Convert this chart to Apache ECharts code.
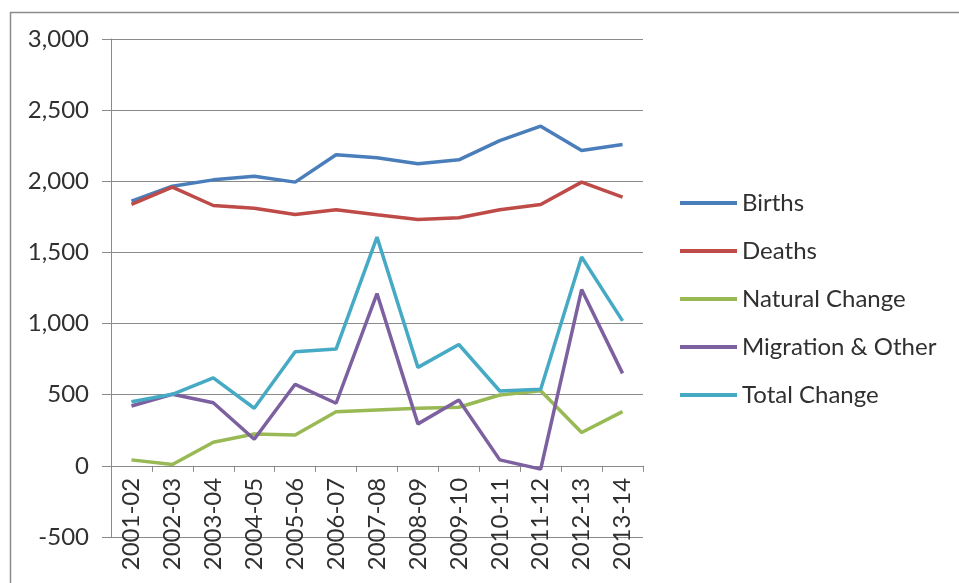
<!DOCTYPE html>
<html>
<head>
<meta charset="utf-8">
<script src="https://cdn.jsdelivr.net/npm/echarts@6/dist/echarts.min.js"></script>
<style>
  html, body { margin: 0; padding: 0; background: #fff; }
  #chart { width: 959px; height: 583px; }
</style>
</head>
<body>
<div id="chart"></div>
<script>
// Population components by year
var years = ['2001-02', '2002-03', '2003-04', '2004-05', '2005-06', '2006-07', '2007-08',
             '2008-09', '2009-10', '2010-11', '2011-12', '2012-13', '2013-14'];
var births         = [1860, 1965, 2010, 2036, 1994, 2186, 2165, 2123, 2151, 2286, 2387, 2216, 2258];
var deaths         = [1837, 1959, 1830, 1811, 1767, 1800, 1765, 1732, 1744, 1800, 1837, 1994, 1889];
var naturalChange  = [42, 10, 166, 224, 217, 381, 393, 405, 412, 498, 528, 234, 381];
var migrationOther = [421, 503, 444, 187, 573, 440, 1211, 295, 463, 42, -23, 1239, 650];
var totalChange    = [451, 503, 619, 405, 802, 821, 1608, 692, 853, 526, 538, 1468, 1019];
var yTicks = { min: -500, max: 3000, step: 500 };

var seriesDefs = [
  { name: 'Births', data: births, color: '#4A7EBB' },
  { name: 'Deaths', data: deaths, color: '#BE4B48' },
  { name: 'Natural Change', data: naturalChange, color: '#98B954' },
  { name: 'Migration & Other', data: migrationOther, color: '#7D60A0' },
  { name: 'Total Change', data: totalChange, color: '#46AAC5' }
];

var FONT = 'Lato, "Open Sans", sans-serif';
var TEXT = '#303030';
var AXIS = '#8a8a8a';
var GRID = { left: 111, right: 316, top: 39, bottom: 46 };

var chart = echarts.init(document.getElementById('chart'), null, { renderer: 'canvas' });
chart.setOption({
  animation: false,
  backgroundColor: '#ffffff',
  graphic: [{
    type: 'rect',
    left: 8, top: 10,
    shape: { width: 1000, height: 700 },
    style: { fill: 'none', stroke: '#8c8c8c', lineWidth: 1.5 },
    silent: true
  }],
  grid: {
    left: GRID.left, right: GRID.right, top: GRID.top, bottom: GRID.bottom,
    containLabel: false, outerBoundsMode: 'none'
  },
  legend: {
    orient: 'vertical',
    left: 675, top: 186,
    itemWidth: 57, itemHeight: 4,
    itemGap: 24,
    icon: 'rect',
    textStyle: { fontFamily: FONT, fontSize: 24, color: TEXT, lineHeight: 24 },
    data: seriesDefs.map(function (s) { return s.name; })
  },
  xAxis: {
    type: 'category',
    data: years,
    boundaryGap: true,
    offset: 0,
    axisLine: { onZero: false, lineStyle: { color: AXIS, width: 1 } },
    axisTick: { show: true, length: 6, inside: false, lineStyle: { color: AXIS } },
    axisLabel: {
      rotate: 90, margin: 12, interval: 0,
      fontFamily: FONT, fontSize: 24, color: TEXT
    },
    splitLine: { show: false }
  },
  yAxis: {
    type: 'value',
    min: yTicks.min, max: yTicks.max, interval: yTicks.step,
    axisLine: { show: true, lineStyle: { color: AXIS, width: 1 } },
    axisTick: { show: true, length: 9, lineStyle: { color: AXIS } },
    axisLabel: {
      margin: 22, fontFamily: FONT, fontSize: 24, color: TEXT,
      formatter: function (v) { return v.toLocaleString('en-US'); }
    },
    splitLine: { show: true, lineStyle: { color: AXIS, width: 1 } }
  },
  series: seriesDefs.map(function (s) {
    return {
      name: s.name,
      type: 'line',
      data: s.data,
      showSymbol: false,
      symbol: 'none',
      lineStyle: { color: s.color, width: 3.5 },
      itemStyle: { color: s.color },
      emphasis: { disabled: true }
    };
  })
});

// Lift the category axis (line, ticks and labels) up to the value 0
var zeroY = chart.convertToPixel({ yAxisIndex: 0 }, 0);
var bottomY = chart.getHeight() - GRID.bottom;
chart.setOption({ xAxis: { offset: zeroY - bottomY } });
</script>
</body>
</html>
